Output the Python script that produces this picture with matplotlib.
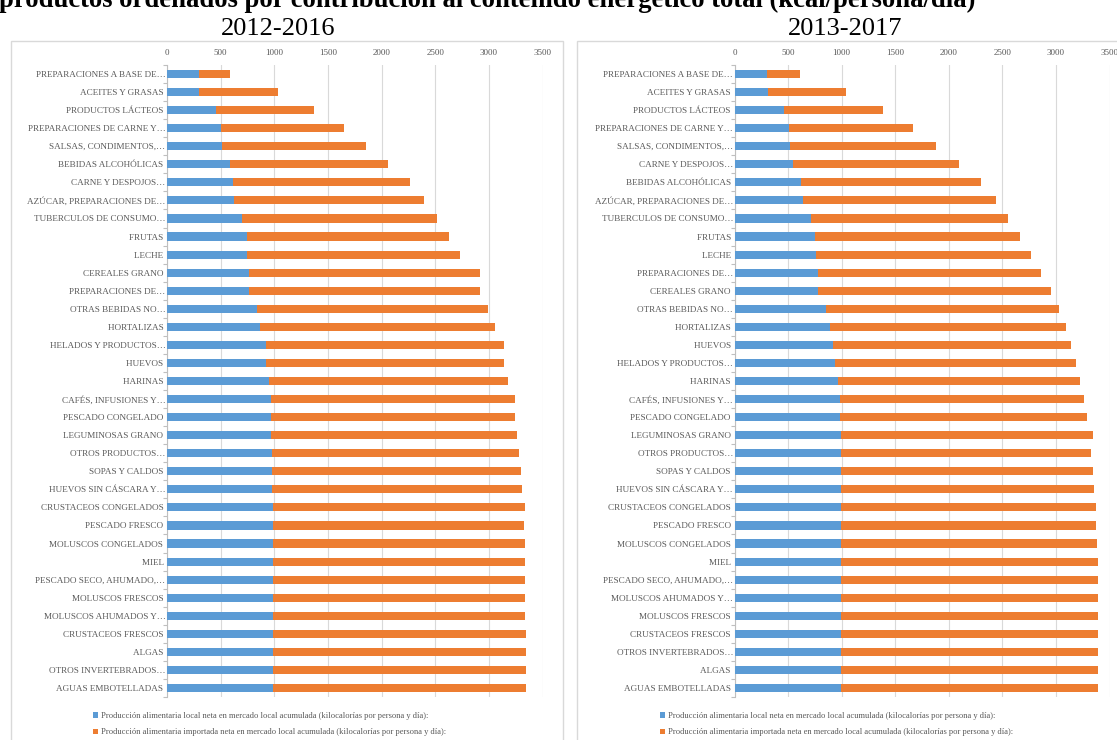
import matplotlib
matplotlib.use("Agg")
import matplotlib.pyplot as plt
import numpy as np
from matplotlib.patches import Patch, Rectangle

plt.rcParams["font.family"] = ["Liberation Serif", "DejaVu Serif"]

TITLE = "productos ordenados por contribución al contenido energético total (kcal/persona/día)"
LEGEND_LABELS = [
    "Producción alimentaria local neta en mercado local acumulada (kilocalorías por persona y día):",
    "Producción alimentaria importada neta en mercado local acumulada (kilocalorías por persona y día):",
]
BLUE = "#5B9BD5"
ORANGE = "#ED7D31"
GRID = "#D9D9D9"
TXT = "#595959"

# 2012-2016
labels_1216 = [
    "PREPARACIONES A BASE DE…", "ACEITES Y GRASAS ", "PRODUCTOS LÁCTEOS ",
    "PREPARACIONES DE CARNE Y…", "SALSAS, CONDIMENTOS,…", "BEBIDAS ALCOHÓLICAS ",
    "CARNE Y DESPOJOS…", "AZÚCAR, PREPARACIONES DE…", "TUBERCULOS DE CONSUMO…",
    "FRUTAS ", "LECHE ", "CEREALES GRANO ", "PREPARACIONES DE…",
    "OTRAS BEBIDAS NO…", "HORTALIZAS ", "HELADOS Y PRODUCTOS…", "HUEVOS ",
    "HARINAS ", "CAFÉS, INFUSIONES Y…", "PESCADO CONGELADO ", "LEGUMINOSAS GRANO ",
    "OTROS PRODUCTOS…", "SOPAS Y CALDOS ", "HUEVOS SIN CÁSCARA Y…",
    "CRUSTACEOS CONGELADOS ", "PESCADO FRESCO ", "MOLUSCOS CONGELADOS ", "MIEL ",
    "PESCADO SECO, AHUMADO,…", "MOLUSCOS FRESCOS ", "MOLUSCOS AHUMADOS Y…",
    "CRUSTACEOS FRESCOS ", "ALGAS ", "OTROS INVERTEBRADOS…", "AGUAS EMBOTELLADAS ",
]
local_1216 = [297, 297, 461, 504, 514, 590, 614, 624, 700, 747, 747, 764, 764,
              837, 870, 923, 923, 950, 973, 973, 973, 980, 980, 980, 986, 986,
              986, 990, 990, 990, 990, 990, 990, 990, 990]
imported_1216 = [293, 733, 905, 1142, 1344, 1472, 1651, 1774, 1814, 1877, 1980,
                 2153, 2153, 2153, 2183, 2217, 2217, 2230, 2267, 2267, 2287,
                 2297, 2317, 2330, 2347, 2341, 2347, 2350, 2350, 2350, 2350,
                 2353, 2353, 2353, 2353]

# 2013-2017
labels_1317 = [
    "PREPARACIONES A BASE DE…", "ACEITES Y GRASAS ", "PRODUCTOS LÁCTEOS ",
    "PREPARACIONES DE CARNE Y…", "SALSAS, CONDIMENTOS,…", "CARNE Y DESPOJOS…",
    "BEBIDAS ALCOHÓLICAS ", "AZÚCAR, PREPARACIONES DE…", "TUBERCULOS DE CONSUMO…",
    "FRUTAS ", "LECHE ", "PREPARACIONES DE…", "CEREALES GRANO ",
    "OTRAS BEBIDAS NO…", "HORTALIZAS ", "HUEVOS ", "HELADOS Y PRODUCTOS…",
    "HARINAS ", "CAFÉS, INFUSIONES Y…", "PESCADO CONGELADO ", "LEGUMINOSAS GRANO ",
    "OTROS PRODUCTOS…", "SOPAS Y CALDOS ", "HUEVOS SIN CÁSCARA Y…",
    "CRUSTACEOS CONGELADOS ", "PESCADO FRESCO ", "MOLUSCOS CONGELADOS ", "MIEL ",
    "PESCADO SECO, AHUMADO,…", "MOLUSCOS AHUMADOS Y…", "MOLUSCOS FRESCOS ",
    "CRUSTACEOS FRESCOS ", "OTROS INVERTEBRADOS…", "ALGAS ", "AGUAS EMBOTELLADAS ",
]
local_1317 = [307, 313, 463, 507, 520, 547, 623, 637, 710, 753, 760, 780, 780,
              850, 887, 920, 940, 970, 987, 987, 997, 997, 997, 997, 997, 997,
              997, 997, 997, 997, 997, 997, 997, 997, 997]
imported_1317 = [303, 730, 924, 1163, 1363, 1546, 1674, 1800, 1847, 1910, 2007,
                 2080, 2173, 2183, 2206, 2220, 2247, 2257, 2276, 2300, 2346,
                 2326, 2346, 2360, 2373, 2376, 2386, 2393, 2393, 2393, 2396,
                 2396, 2396, 2396, 2396]

W, H = 1117, 740


def px_rect(x0, x1, y_top, y_bot):
    return [x0 / W, 1 - y_bot / H, (x1 - x0) / W, (y_bot - y_top) / H]


def draw_panel(fig, rect, labels, local, imported):
    ax = fig.add_axes(rect)
    y = np.arange(len(labels))
    ax.barh(y, local, 0.45, color=BLUE, zorder=3)
    ax.barh(y, imported, 0.45, left=local, color=ORANGE, zorder=3)
    ax.set_xlim(0, 3500)
    ax.set_ylim(len(labels) - 0.5, -0.5)
    ax.set_xticks(np.arange(0, 3501, 500))
    ax.xaxis.tick_top()
    ax.tick_params(axis="x", length=0, labelsize=6.5, labelcolor=TXT, pad=6)
    ax.set_yticks(y)
    ax.set_yticklabels(labels)
    ax.tick_params(axis="y", which="major", length=0, labelsize=6.6,
                   labelcolor=TXT, pad=1)
    ax.set_yticks(np.arange(-0.5, len(labels), 1), minor=True)
    ax.tick_params(axis="y", which="minor", length=3, color="#BFBFBF", width=0.8)
    ax.grid(True, axis="x", color=GRID, linewidth=0.8, zorder=0)
    for s in ["top", "right", "bottom"]:
        ax.spines[s].set_visible(False)
    ax.spines["left"].set_color("#BFBFBF")
    ax.spines["left"].set_linewidth(0.8)
    ax.set_axisbelow(True)
    return ax


fig = plt.figure(figsize=(W / 100, H / 100), dpi=100)

# panel frames
for x0, x1 in [(10.5, 563), (577, 1130)]:
    fig.patches.append(Rectangle((x0 / W, -0.05), (x1 - x0) / W, 1.05 - 41 / H,
                                 transform=fig.transFigure, fill=False,
                                 edgecolor=GRID, linewidth=1))

draw_panel(fig, px_rect(167, 542.5, 65, 697), labels_1216, local_1216, imported_1216)
draw_panel(fig, px_rect(734.5, 1109.5, 65, 697), labels_1317, local_1317, imported_1317)

fig.text(-1 / W, 1 - 7 / H, TITLE, ha="left", va="baseline",
         fontsize=19.2, fontweight="bold")
fig.text(278.5 / W, 1 - 35 / H, "2012-2016", ha="center", va="baseline", fontsize=19)
fig.text(845 / W, 1 - 35 / H, "2013-2017", ha="center", va="baseline", fontsize=19)

handles = [Patch(facecolor=BLUE), Patch(facecolor=ORANGE)]
for x in [93, 660]:
    fig.legend(handles, LEGEND_LABELS, loc="upper left",
               bbox_to_anchor=(x / W, 1 - 712 / H), frameon=False, fontsize=6.1,
               handlelength=0.6, handleheight=0.6, handletextpad=0.3,
               labelspacing=1.0, borderpad=0, borderaxespad=0, labelcolor=TXT)

fig.savefig("out.png", dpi=100)
